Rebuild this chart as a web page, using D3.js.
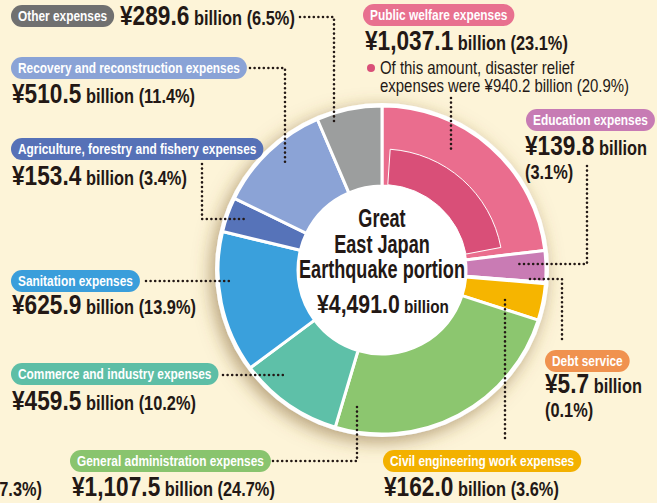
<!DOCTYPE html>
<html>
<head>
<meta charset="utf-8">
<script src="https://cdn.jsdelivr.net/npm/d3@7/dist/d3.min.js"></script>
<style>
  body { margin: 0; background: #fdf4d8; }
  svg { display: block; }
  text { font-family: "Liberation Sans", Arial, sans-serif; }
</style>
</head>
<body>
<div id="chart"></div>
<script>
// Great East Japan Earthquake portion, by purpose (billions of yen)
var categories = [
  "Public welfare expenses",
  "Education expenses",
  "Debt service",
  "Civil engineering work expenses",
  "General administration expenses",
  "Commerce and industry expenses",
  "Sanitation expenses",
  "Agriculture, forestry and fishery expenses",
  "Recovery and reconstruction expenses",
  "Other expenses"
];
var amounts = [1037.1, 139.8, 5.7, 162.0, 1107.5, 459.5, 625.9, 153.4, 510.5, 289.6];
var shares  = ["23.1", "3.1", "0.1", "3.6", "24.7", "10.2", "13.9", "3.4", "11.4", "6.5"];
var amountLabels = ["1,037.1", "139.8", "5.7", "162.0", "1,107.5", "459.5", "625.9", "153.4", "510.5", "289.6"];

// of public welfare: disaster relief
var reliefAmount = 940.2;
var reliefShare = "20.9";
var totalLabel = "4,491.0";

const chartWidth = 657;
const chartHeight = 503;

const cx = 382, cy = 270;
const innerR = 84, outerR = 164, reliefOuterR = 121;

var sliceColors = ["#ea6d8e", "#c97bb4", "#f0924f", "#f6b500", "#8cc66f", "#5ec0a8", "#3aa0dc", "#5673b9", "#8ba3d6", "#9c9e9e"];
var pillColors  = ["#e8708f", "#c77bb4", "#f0924f", "#f3b100", "#89c46e", "#5dbea6", "#3a9edb", "#5671b7", "#8aa3d6", "#707070"];
var reliefColor = "#d94f78";
var ink = "#231815";

// where each label sits: pill top-left, value baseline, leader polyline
var layout = [
  { pill: [363, 4],   value: [365, 50],  split: false, leader: [[451, 98], [451, 150]] },
  { pill: [526, 109], value: [525, 155], split: true,  leader: [[587, 166], [587, 264], [518, 264]] },
  { pill: [545, 350], value: [545, 393], split: true,  leader: [[530, 279], [562, 279], [562, 342]] },
  { pill: [383, 450], value: [384, 496], split: false, leader: [[505, 300], [505, 442]] },
  { pill: [70, 450],  value: [72, 496],  split: false, leader: [[273, 461], [357, 461], [357, 403]] },
  { pill: [11, 363],  value: [12, 410],  split: false, leader: [[223, 375], [283, 375]] },
  { pill: [11, 270],  value: [12, 314],  split: false, leader: [[146, 281], [232, 281]] },
  { pill: [11, 138],  value: [12, 185],  split: false, leader: [[202, 164], [202, 219], [245, 219]] },
  { pill: [11, 57],   value: [12, 103],  split: false, leader: [[250, 68], [285, 68], [285, 164]] },
  { pill: [11, 5],    value: [120, 25],  split: false, leader: [[300, 17], [334, 17], [334, 122]] }
];

var d3;

// the print uses a condensed gothic face; squeeze Liberation Sans to get near it
function narrowText(parent, x, y, squeeze) {
  return parent.append("text")
    .attr("transform", "translate(" + x + "," + y + ") scale(" + squeeze + ",1)");
}

function createChart() {
  var svg = d3.select("#chart")
    .append("svg")
    .attr("width", chartWidth)
    .attr("height", chartHeight);

  svg.append("rect")
    .attr("width", chartWidth)
    .attr("height", chartHeight)
    .attr("fill", "#fdf4d8");

  var defs = svg.append("defs");
  var shadow = defs.append("filter")
    .attr("id", "shadow")
    .attr("x", "-30%").attr("y", "-30%")
    .attr("width", "160%").attr("height", "160%");
  shadow.append("feDropShadow")
    .attr("dx", -4).attr("dy", 5)
    .attr("stdDeviation", 9)
    .attr("flood-color", "#7a5a2a")
    .attr("flood-opacity", 0.55);

  var g = svg.append("g")
    .attr("transform", "translate(" + cx + "," + cy + ")");

  g.append("circle")
    .attr("r", outerR + 3)
    .attr("fill", "#fff")
    .attr("filter", "url(#shadow)");

  var pie = d3.pie().sort(null).value(function(d) { return d; });
  var arcs = pie(amounts);

  var arc = d3.arc().innerRadius(innerR).outerRadius(outerR);

  g.selectAll("path.slice")
    .data(arcs)
    .enter()
    .append("path")
    .attr("class", "slice")
    .attr("d", arc)
    .attr("fill", function(d, i) { return sliceColors[i]; })
    .attr("stroke", "#fff")
    .attr("stroke-width", 3)
    .attr("stroke-linejoin", "round");

  // disaster relief share inside public welfare slice
  var total = d3.sum(amounts);
  var angle = d3.scaleLinear().domain([0, total]).range([0, 2 * Math.PI]);
  var pw = arcs[0];
  var spare = (pw.endAngle - pw.startAngle - angle(reliefAmount)) / 2;
  var reliefArc = d3.arc()
    .innerRadius(innerR + 1.5)
    .outerRadius(reliefOuterR)
    .startAngle(pw.startAngle + spare)
    .endAngle(pw.startAngle + spare + angle(reliefAmount));
  g.append("path")
    .attr("d", reliefArc())
    .attr("fill", reliefColor)
    .attr("stroke", "#fff")
    .attr("stroke-width", 1);

  g.append("circle")
    .attr("r", innerR - 1)
    .attr("fill", "#fff");

  // centre title
  var title = ["Great", "East Japan", "Earthquake portion"];
  title.forEach(function(t, i) {
    narrowText(g, 0, -43 + i * 25.5, 0.71)
      .attr("text-anchor", "middle")
      .attr("font-size", 25.5)
      .attr("font-weight", "bold")
      .attr("fill", ink)
      .text(t);
  });

  var tot = narrowText(g, 1, 43, 0.85)
    .attr("text-anchor", "middle")
    .attr("font-weight", "bold")
    .attr("fill", ink);
  tot.append("tspan").attr("font-size", 25).text("¥" + totalLabel);
  tot.append("tspan").attr("font-size", 18).text(" billion");

  // leader lines
  var line = d3.line();
  svg.selectAll("path.leader")
    .data(layout)
    .enter()
    .append("path")
    .attr("class", "leader")
    .attr("d", function(d) { return line(d.leader); })
    .attr("fill", "none")
    .attr("stroke", ink)
    .attr("stroke-width", 2.6)
    .attr("stroke-linecap", "round")
    .attr("stroke-dasharray", "0,4.6");

  // pills
  categories.forEach(function(c, i) {
    var L = layout[i];
    var p = svg.append("g")
      .attr("transform", "translate(" + L.pill[0] + "," + L.pill[1] + ")");
    var r = p.append("rect")
      .attr("height", 22)
      .attr("rx", 11)
      .attr("fill", pillColors[i]);
    var t = narrowText(p, 7, 16, 0.82)
      .attr("font-size", 14.5)
      .attr("font-weight", "bold")
      .attr("fill", "#fff")
      .text(c);
    r.attr("width", t.node().getComputedTextLength() * 0.82 + 14);
  });

  // values
  categories.forEach(function(c, i) {
    var L = layout[i];
    var t = narrowText(svg, L.value[0], L.value[1], 0.84)
      .attr("font-weight", "bold")
      .attr("fill", ink);
    t.append("tspan").attr("font-size", 27).text("¥" + amountLabels[i]);
    if (L.split) {
      t.append("tspan").attr("font-size", 19.5).text(" billion");
      narrowText(svg, L.value[0], L.value[1] + 24, 0.84)
        .attr("font-weight", "bold")
        .attr("font-size", 19.5)
        .attr("fill", ink)
        .text("(" + shares[i] + "%)");
    } else {
      t.append("tspan").attr("font-size", 19.5).text(" billion (" + shares[i] + "%)");
    }
  });

  // disaster relief note
  svg.append("circle")
    .attr("cx", 371).attr("cy", 68).attr("r", 4)
    .attr("fill", reliefColor);
  narrowText(svg, 380, 74, 0.83)
    .attr("font-size", 18)
    .attr("fill", ink)
    .text("Of this amount, disaster relief");
  narrowText(svg, 380, 92, 0.83)
    .attr("font-size", 18)
    .attr("fill", ink)
    .text("expenses were ¥" + reliefAmount.toFixed(1) + " billion (" + reliefShare + "%)");

  // cropped neighbour label at the bottom edge
  narrowText(svg, 42, 496, 0.84)
    .attr("text-anchor", "end")
    .attr("font-size", 19.5)
    .attr("font-weight", "bold")
    .attr("fill", ink)
    .text("(7.3%)");
}

createChart();
</script>
</body>
</html>
